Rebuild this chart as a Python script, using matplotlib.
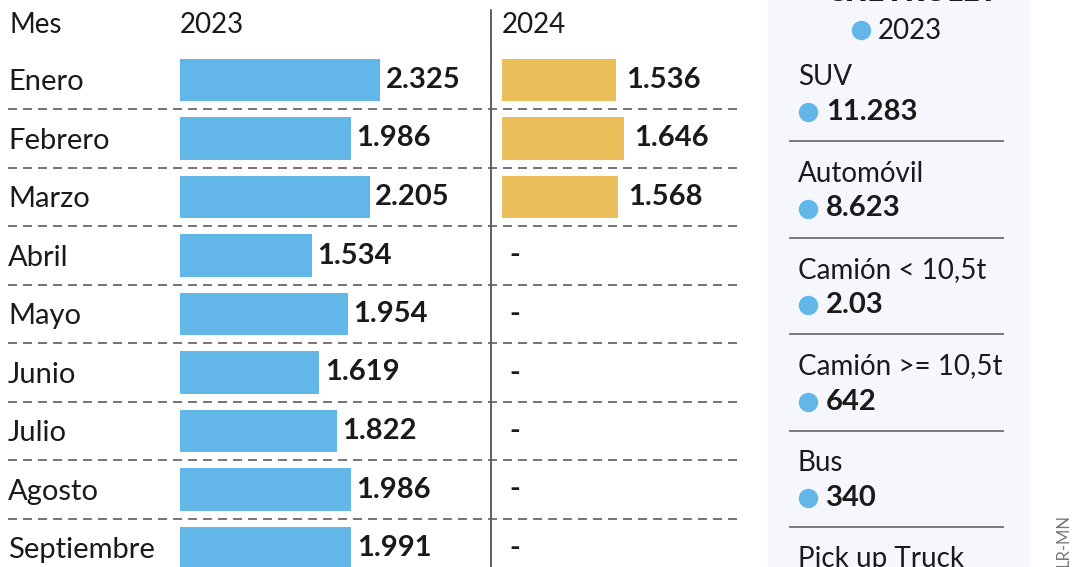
import matplotlib
matplotlib.use("Agg")
import matplotlib.pyplot as plt
import matplotlib.transforms as mtransforms

# data
months = ["Enero", "Febrero", "Marzo", "Abril", "Mayo", "Junio", "Julio", "Agosto", "Septiembre"]
sales_2023 = [2325, 1986, 2205, 1534, 1954, 1619, 1822, 1986, 1991]
sales_2024 = [1536, 1646, 1568]

segments = ["SUV", "Automóvil", "Camión < 10,5t", "Camión >= 10,5t", "Bus", "Pick up Truck"]
segment_labels = ["11.283", "8.623", "2.03", "642", "340", ""]

BLUE = "#62b7e8"
GOLD = "#ebc05a"
INK = "#1a1a1a"
FONT = "Lato"

plt.rcParams["font.family"] = [FONT, "DejaVu Sans"]


def fmt(v):
    return f"{v:,}".replace(",", ".")


W, H = 1080, 567
fig = plt.figure(figsize=(W / 100, H / 100), dpi=100)

# overlay in pixel coordinates for the side panel and decorations
ov = fig.add_axes([0, 0, 1, 1])
ov.set_xlim(0, W)
ov.set_ylim(H, 0)
ov.axis("off")

# row geometry: row i centred at 80 + 58.5*i pixels
row0, step = 80, 58.5
ylim = ((H - row0) / step, -row0 / step)

ax23 = fig.add_axes([180 / W, 0, 300 / W, 1])
ax24 = fig.add_axes([502 / W, 0, 240 / W, 1])
for a in (ax23, ax24):
    a.set_ylim(*ylim)
    a.axis("off")
ax23.set_xlim(0, 300 / 0.086)
ax24.set_xlim(0, 240 / 0.0742)

rows = list(range(len(months)))
ax23.barh(rows, sales_2023, height=0.72, color=BLUE, zorder=2)
ax24.barh(rows[:len(sales_2024)], sales_2024, height=0.72, color=GOLD, zorder=2)

for i, v in enumerate(sales_2023):
    ax23.annotate(fmt(v), (v, i), xytext=(4, 0), textcoords="offset points",
                  va="center", ha="left", fontsize=21, fontweight="bold", color=INK)
for i in rows:
    if i < len(sales_2024):
        v = sales_2024[i]
        ax24.annotate(fmt(v), (v, i), xytext=(7, 0), textcoords="offset points",
                      va="center", ha="left", fontsize=21, fontweight="bold", color=INK)
    else:
        ax24.annotate("-", (0, i), xytext=(5, 0), textcoords="offset points",
                      va="center", ha="left", fontsize=21, fontweight="bold", color=INK)

# month labels and dashed separators
tr = mtransforms.blended_transform_factory(fig.transFigure, ax23.transData)
for i, m in enumerate(months):
    ax23.text(8 / W, i + 0.04, m, transform=tr, va="center", ha="left", fontsize=21,
              color=INK)
for i in rows[:-1]:
    ax23.plot([8 / W, 742 / W], [i + 0.5, i + 0.5], transform=tr, clip_on=False,
              color="#5e5e5e", lw=1.2, linestyle=(0, (5.4, 3.6)), zorder=1)

# headers
ov.text(10, 25, "Mes", fontsize=20, va="center", ha="left", color=INK)
ov.text(180, 25, "2023", fontsize=20, va="center", ha="left", color=INK)
ov.text(502, 25, "2024", fontsize=20, va="center", ha="left", color=INK)
ov.plot([491, 491], [10, H], color="#333333", lw=1.1)

# side panel
ov.axvspan(768, 1030, color="#f6f7fc", zorder=0)
ov.text(912, 6, "CHEVROLET", fontsize=21, fontweight="heavy", ha="center", va="bottom", color=INK)
ov.plot(861, 30, "o", ms=14, color=BLUE, mec="none")
ov.text(878, 31, "2023", fontsize=20, va="center", ha="left", color=INK)

p0, pstep = 75, 96.5
for k, (seg, lab) in enumerate(zip(segments, segment_labels)):
    y = p0 + pstep * k
    ov.text(798, y + 2, seg, fontsize=20, va="center", ha="left", color=INK)
    if lab:
        ov.plot(808, y + 37, "o", ms=14, color=BLUE, mec="none")
        ov.text(826, y + 37, lab, fontsize=21, fontweight="bold", va="center", ha="left", color=INK)
        ov.plot([790, 1003], [y + 66, y + 66], color="#6e6e6e", lw=1.3)

ov.text(1064, 514, "LR-MN", fontsize=12, rotation=90, va="top", ha="center", color="#777777")

fig.savefig("out.png", dpi=100)
